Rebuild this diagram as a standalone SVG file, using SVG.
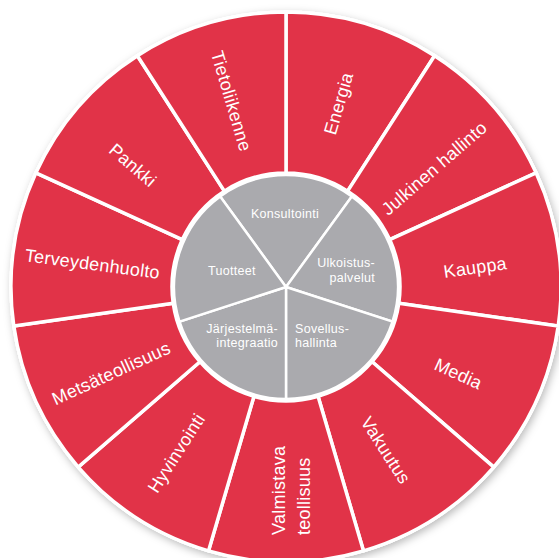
<svg xmlns="http://www.w3.org/2000/svg" width="559" height="558" viewBox="0 0 559 558">
<style>
.seg{fill:#e13348;stroke:#fff;stroke-width:3.5;stroke-linejoin:miter}
.core{fill:#aaaaae;stroke:#fff;stroke-width:2.5}
.lbl{font-family:"Liberation Sans",Arial,sans-serif;font-size:18px;fill:#fff;letter-spacing:0.25px;text-anchor:middle}
.in{font-family:"Liberation Sans",Arial,sans-serif;font-size:12.5px;fill:#fff;letter-spacing:0.3px}
</style>
<defs>
<filter id="sh" x="-10%" y="-10%" width="120%" height="120%">
<feDropShadow dx="2" dy="3" stdDeviation="4" flood-color="#000" flood-opacity="0.28"/>
</filter>
</defs>
<rect width="559" height="558" fill="#fff"/>
<circle cx="286" cy="287" r="276.5" fill="#fff" filter="url(#sh)"/>

<g id="energia">
<path class="seg" d="M286 12 A275 275 0 0 1 434.6 55.7 L347.6 191.1 A114 114 0 0 0 286 173 Z"/>
<text class="lbl" transform="translate(344.5 105.3) rotate(-73.6)">Energia</text>
</g>
<g id="julkinen-hallinto">
<path class="seg" d="M434.6 55.7 A275 275 0 0 1 536.1 172.8 L389.7 239.6 A114 114 0 0 0 347.6 191.1 Z"/>
<text class="lbl" transform="translate(438.3 172.9) rotate(-40.9)">Julkinen hallinto</text>
</g>
<g id="kauppa">
<path class="seg" d="M536.1 172.8 A275 275 0 0 1 558.2 326.1 L398.8 303.2 A114 114 0 0 0 389.7 239.6 Z"/>
<text class="lbl" transform="translate(476 273.5) rotate(-8.2)">Kauppa</text>
</g>
<g id="media">
<path class="seg" d="M558.2 326.1 A275 275 0 0 1 493.8 467.1 L372.1 361.7 A114 114 0 0 0 398.8 303.2 Z"/>
<text class="lbl" transform="translate(455.8 379.4) rotate(24.5)">Media</text>
</g>
<g id="vakuutus">
<path class="seg" d="M493.8 467.1 A275 275 0 0 1 363.5 550.9 L318.1 396.4 A114 114 0 0 0 372.1 361.7 Z"/>
<text class="lbl" transform="translate(380.5 453.5) rotate(57.3)">Vakuutus</text>
</g>
<g id="valmistava-teollisuus">
<path class="seg" d="M363.5 550.9 A275 275 0 0 1 208.5 550.9 L253.9 396.4 A114 114 0 0 0 318.1 396.4 Z"/>
<text class="lbl" style="text-anchor:start" transform="translate(290.5 489) rotate(-90)"><tspan x="-46" y="-5.5">Valmistava</tspan><tspan x="-46" y="19.5">teollisuus</tspan></text>
</g>
<g id="hyvinvointi">
<path class="seg" d="M208.5 550.9 A275 275 0 0 1 78.2 467.1 L199.9 361.7 A114 114 0 0 0 253.9 396.4 Z"/>
<text class="lbl" transform="translate(181.5 456.5) rotate(-57.3)">Hyvinvointi</text>
</g>
<g id="metsateollisuus">
<path class="seg" d="M78.2 467.1 A275 275 0 0 1 13.8 326.1 L173.2 303.2 A114 114 0 0 0 199.9 361.7 Z"/>
<text class="lbl" transform="translate(113.7 378.9) rotate(-24.5)">Metsäteollisuus</text>
</g>
<g id="terveydenhuolto">
<path class="seg" d="M13.8 326.1 A275 275 0 0 1 35.9 172.8 L182.3 239.6 A114 114 0 0 0 173.2 303.2 Z"/>
<text class="lbl" transform="translate(91.7 270) rotate(7.5)">Terveydenhuolto</text>
</g>
<g id="pankki">
<path class="seg" d="M35.9 172.8 A275 275 0 0 1 137.4 55.7 L224.4 191.1 A114 114 0 0 0 182.3 239.6 Z"/>
<text class="lbl" transform="translate(128.7 169.9) rotate(40.9)">Pankki</text>
</g>
<g id="tietoliikenne">
<path class="seg" d="M137.4 55.7 A275 275 0 0 1 286 12 L286 173 A114 114 0 0 0 224.4 191.1 Z"/>
<text class="lbl" transform="translate(225.5 102.8) rotate(73.6)">Tietoliikenne</text>
</g>

<g id="konsultointi">
<path class="core" d="M286 287 L220.2 196.4 A112 112 0 0 1 351.8 196.4 Z"/>
<text class="in" x="285" y="218.3" text-anchor="middle">Konsultointi</text>
</g>
<g id="ulkoistuspalvelut">
<path class="core" d="M286 287 L351.8 196.4 A112 112 0 0 1 392.5 321.6 Z"/>
<text class="in" text-anchor="end"><tspan x="375" y="267.3">Ulkoistus-</tspan><tspan x="375" y="281.7">palvelut</tspan></text>
</g>
<g id="sovellushallinta">
<path class="core" d="M286 287 L392.5 321.6 A112 112 0 0 1 286 399 Z"/>
<text class="in" text-anchor="start"><tspan x="295" y="332.7">Sovellus-</tspan><tspan x="295" y="347.3">hallinta</tspan></text>
</g>
<g id="jarjestelmaintegraatio">
<path class="core" d="M286 287 L286 399 A112 112 0 0 1 179.5 321.6 Z"/>
<text class="in" text-anchor="end"><tspan x="278" y="332.7">Järjestelmä-</tspan><tspan x="278" y="347.3">integraatio</tspan></text>
</g>
<g id="tuotteet">
<path class="core" d="M286 287 L179.5 321.6 A112 112 0 0 1 220.2 196.4 Z"/>
<text class="in" x="232" y="275" text-anchor="middle">Tuotteet</text>
</g>
<g id="connectors"></g>
</svg>
